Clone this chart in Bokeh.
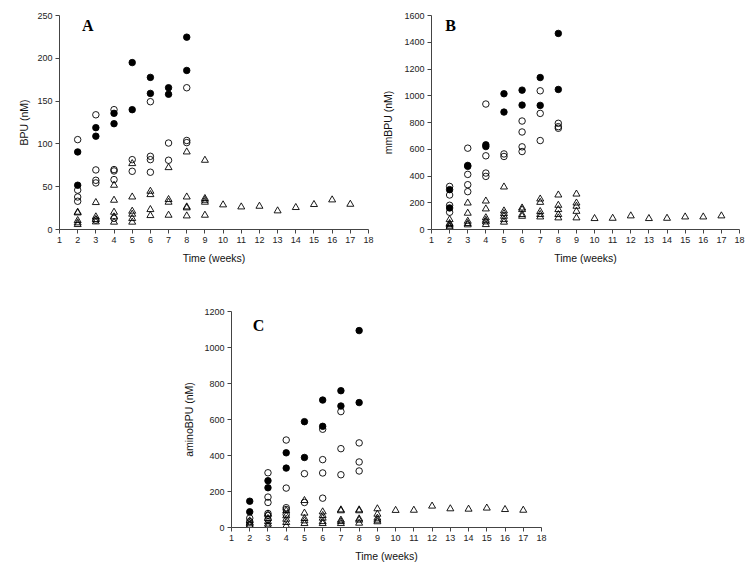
from bokeh.plotting import figure
from bokeh.layouts import column, row, Spacer
from bokeh.models import Range1d, FixedTicker, Label
from bokeh.embed import file_html
from bokeh.resources import INLINE

weeks_ticks = list(range(1, 19))

# ---------------- Panel A: BPU (nM) ----------------
A_filled_x = [2, 2, 3, 3, 4, 4, 5, 5, 6, 6, 7, 7, 8, 8]
A_filled_y = [90.6, 51.7, 119, 109, 135.7, 123.6, 195, 140, 177.7, 159, 165.6, 158, 224.7, 185.8]
A_open_x = [2, 2, 2, 2, 3, 3, 3, 3, 3, 4, 4, 4, 4, 4, 5, 5, 6, 6, 6, 6, 7, 7, 8, 8, 8]
A_open_y = [105, 46, 38, 33, 134, 69.6, 57.5, 54.4, 11, 140, 70, 68.4, 58.3, 13, 81.6, 68,
            149.3, 85.5, 81.6, 66.9, 101, 80.9, 165.6, 104, 101.5]
A_tri_x = [2, 2, 2, 2, 2, 3, 3, 3, 3, 4, 4, 4, 4, 4, 5, 5, 5, 5, 5, 5, 6, 6, 6, 6,
           7, 7, 7, 7, 8, 8, 8, 8, 8, 9, 9, 9, 9, 9, 10, 11, 12, 13, 14, 15, 16, 17]
A_tri_y = [20.2, 19.4, 10.5, 7.8, 5.8, 31.5, 14.8, 11.7, 8.9, 51.7, 34.2, 20.2, 14.8, 8.6,
           77, 38, 21.4, 17.9, 12.8, 8.6, 44.7, 40.8, 23.3, 16.3, 72.3, 35, 31.9, 16.7,
           90.6, 38, 26.4, 25.3, 15.9, 80.9, 36.2, 34.2, 31.9, 16.7,
           28.8, 26.4, 27.2, 21.8, 25.7, 29.2, 34.6, 29.5]
A_yticks = [0, 50, 100, 150, 200, 250]

# ---------------- Panel B: mmBPU (nM) ----------------
B_filled_x = [2, 2, 3, 3, 4, 4, 5, 5, 6, 6, 7, 7, 8, 8]
B_filled_y = [298, 161, 479, 472, 633, 620, 1015, 878, 1042, 930, 1136, 928, 1466, 1047]
B_open_x = [2, 2, 2, 2, 3, 3, 3, 3, 4, 4, 4, 4, 5, 5, 6, 6, 6, 6, 7, 7, 7, 8, 8, 8]
B_open_y = [322, 258, 181, 129, 608, 412, 335, 283, 938, 551, 422, 397, 565, 546,
            811, 729, 618, 583, 1037, 868, 665, 794, 769, 757]
B_tri_x = [2, 2, 2, 2, 2, 3, 3, 3, 3, 3, 4, 4, 4, 4, 4, 4, 5, 5, 5, 5, 5, 5, 6, 6, 6, 6,
           7, 7, 7, 7, 7, 8, 8, 8, 8, 8, 9, 9, 9, 9, 9, 10, 11, 12, 13, 14, 15, 16, 17]
B_tri_y = [74, 45, 37, 25, 17, 198, 122, 62, 45, 35, 213, 154, 88, 69, 57, 37,
           318, 139, 119, 99, 74, 55, 161, 149, 112, 99, 228, 203, 134, 112, 94,
           258, 181, 149, 112, 87, 265, 198, 174, 136, 87,
           82, 84, 102, 82, 84, 94, 94, 102]
B_yticks = [0, 200, 400, 600, 800, 1000, 1200, 1400, 1600]

# ---------------- Panel C: aminoBPU (nM) ----------------
C_filled_x = [2, 2, 3, 3, 4, 4, 5, 5, 6, 6, 7, 7, 8, 8]
C_filled_y = [146, 87, 260, 221, 415, 330, 588, 389, 708, 562, 760, 675, 1094, 694]
C_open_x = [2, 2, 2, 3, 3, 3, 3, 3, 3, 4, 4, 4, 4, 4, 5, 5, 6, 6, 6, 6, 7, 7, 7, 8, 8, 8]
C_open_y = [52, 33, 15, 304, 169, 139, 78, 67, 45, 486, 219, 110, 100, 72, 299, 139,
            546, 377, 303, 163, 644, 438, 293, 470, 364, 314]
C_tri_x = [2, 2, 2, 3, 3, 3, 3, 3, 4, 4, 4, 4, 4, 5, 5, 5, 5, 5, 6, 6, 6, 6, 6,
           7, 7, 7, 7, 7, 8, 8, 8, 8, 8, 9, 9, 9, 9, 9, 10, 11, 12, 13, 14, 15, 16, 17]
C_tri_y = [37, 24, 13, 74, 50, 33, 19, 6, 93, 65, 46, 28, 9, 150, 80, 50, 37, 22,
           87, 67, 52, 33, 22, 98, 93, 41, 33, 22, 98, 93, 48, 41, 24, 104, 74, 52, 41, 32,
           95, 96, 119, 104, 102, 108, 100, 96]
C_yticks = [0, 200, 400, 600, 800, 1000, 1200]

SANS = "Liberation Sans"
SERIF = "Liberation Serif"


def make_panel(width, height, borders, ymax, yticks, ylabel, letter, letter_xy,
               fx, fy, ox, oy, tx, ty, ylabel_standoff):
    left, right, top, bottom = borders
    p = figure(width=width, height=height, output_backend="svg", toolbar_location=None,
               x_range=Range1d(1, 18), y_range=Range1d(0, ymax),
               min_border_left=left, min_border_right=right,
               min_border_top=top, min_border_bottom=bottom)
    p.outline_line_color = None
    p.xgrid.visible = False
    p.ygrid.visible = False
    p.background_fill_color = "white"
    p.border_fill_color = "white"

    p.xaxis.ticker = FixedTicker(ticks=weeks_ticks)
    p.yaxis.ticker = FixedTicker(ticks=yticks)
    for ax in (p.xaxis, p.yaxis):
        ax.axis_line_color = "#444444"
        ax.major_tick_line_color = "#444444"
        ax.major_tick_out = 4
        ax.major_tick_in = 0
        ax.minor_tick_out = 0
        ax.minor_tick_in = 0
        ax.major_label_text_font = SANS
        ax.major_label_text_font_size = "9px"
        ax.major_label_text_color = "#222222"
        ax.major_label_standoff = 3
        ax.axis_label_text_font = SANS
        ax.axis_label_text_font_size = "10.5px"
        ax.axis_label_text_font_style = "normal"
        ax.axis_label_text_color = "#111111"
    p.xaxis.axis_label = "Time (weeks)"
    p.xaxis.axis_label_standoff = 6
    p.yaxis.axis_label = ylabel
    p.yaxis.axis_label_standoff = ylabel_standoff

    p.scatter(x=tx, y=ty, marker="triangle", size=7, line_color="black",
              line_width=0.9, fill_color=None)
    p.scatter(x=ox, y=oy, marker="circle", size=6.5, line_color="black",
              line_width=0.9, fill_color=None)
    p.scatter(x=fx, y=fy, marker="circle", size=6.5, line_color="black",
              line_width=0.9, fill_color="black")

    p.add_layout(Label(x=letter_xy[0], y=letter_xy[1], text=letter,
                       text_font=SERIF, text_font_style="bold",
                       text_font_size="16px", text_align="center",
                       text_baseline="middle", text_color="black"))
    return p


pA = make_panel(376, 280, (59, 8, 15, 51), 250, A_yticks, "BPU (nM)", "A", (2.55, 238),
                A_filled_x, A_filled_y, A_open_x, A_open_y, A_tri_x, A_tri_y, 4)
pB = make_panel(369, 280, (55, 6, 15, 50), 1600, B_yticks, "mmBPU (nM)", "B", (2.05, 1526),
                B_filled_x, B_filled_y, B_open_x, B_open_y, B_tri_x, B_tri_y, 7)
pC = make_panel(371, 288, (51, 10, 31, 41), 1200, C_yticks, "aminoBPU (nM)", "C", (2.48, 1122),
                C_filled_x, C_filled_y, C_open_x, C_open_y, C_tri_x, C_tri_y, 6)

layout = column(row(pA, pB), row(Spacer(width=180, height=288), pC))

open("out.html", "w").write(file_html(layout, INLINE))
